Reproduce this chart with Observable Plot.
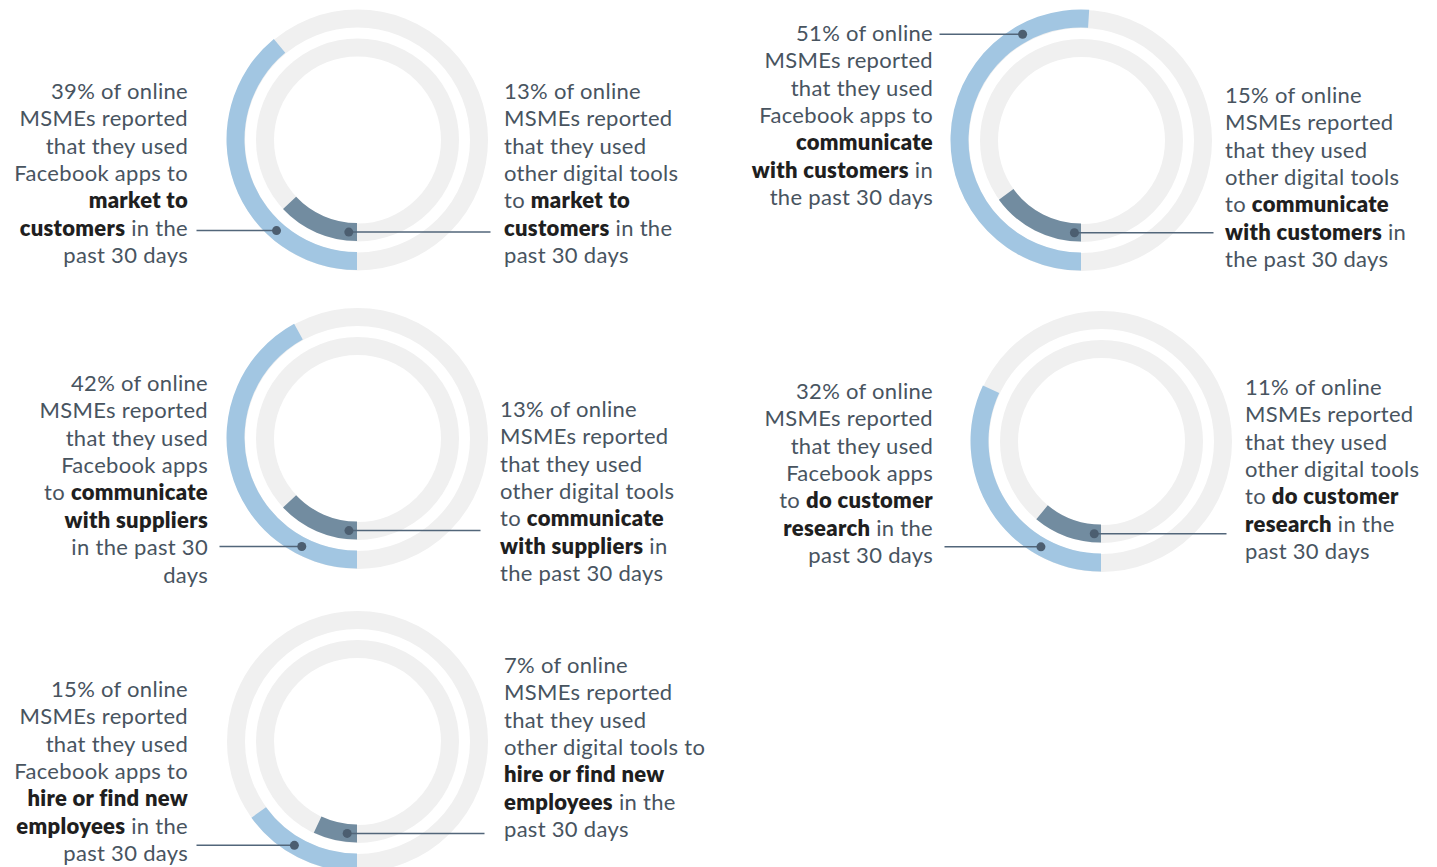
<!DOCTYPE html>
<html><head><meta charset="utf-8">
<script src="https://cdn.jsdelivr.net/npm/d3@7"></script>
<script src="https://cdn.jsdelivr.net/npm/@observablehq/plot@0.6"></script>
<style>
html,body{margin:0;padding:0;background:#fff;}
#chart{position:relative;width:1437px;height:867px;overflow:hidden}
</style></head><body><div id="chart"></div>
<script>
// ---------------- data ----------------
const activities = ["market to customers", "communicate with customers", "communicate with suppliers", "do customer research", "hire or find new employees"];
const facebookAppsPct = [39, 51, 42, 32, 15];
const otherToolsPct = [13, 15, 13, 11, 7];
// label line breaks as in the original; {v} = the value, *...* = bold
const facebookLabelLines = [
  ["{v}% of online", "MSMEs reported", "that they used", "Facebook apps to", "*market to*", "*customers* in the", "past 30 days"],
  ["{v}% of online", "MSMEs reported", "that they used", "Facebook apps to", "*communicate*", "*with customers* in", "the past 30 days"],
  ["{v}% of online", "MSMEs reported", "that they used", "Facebook apps", "to *communicate*", "*with suppliers*", "in the past 30", "days"],
  ["{v}% of online", "MSMEs reported", "that they used", "Facebook apps", "to *do customer*", "*research* in the", "past 30 days"],
  ["{v}% of online", "MSMEs reported", "that they used", "Facebook apps to", "*hire or find new*", "*employees* in the", "past 30 days"]
];
const otherLabelLines = [
  ["{v}% of online", "MSMEs reported", "that they used", "other digital tools", "to *market to*", "*customers* in the", "past 30 days"],
  ["{v}% of online", "MSMEs reported", "that they used", "other digital tools", "to *communicate*", "*with customers* in", "the past 30 days"],
  ["{v}% of online", "MSMEs reported", "that they used", "other digital tools", "to *communicate*", "*with suppliers* in", "the past 30 days"],
  ["{v}% of online", "MSMEs reported", "that they used", "other digital tools", "to *do customer*", "*research* in the", "past 30 days"],
  ["{v}% of online", "MSMEs reported", "that they used", "other digital tools to", "*hire or find new*", "*employees* in the", "past 30 days"]
];

// ---------------- layout (positions / styles) ----------------
const centers = [[357, 139.5], [1081, 140], [357, 438], [1101, 441], [357, 741]];
const outerBand = [112.5, 130.5];
const innerBand = [83.5, 101.5];
const outerLeaderDeg = [41.8, 151, 27.3, 29.9, 31.3];   // clockwise from 6 o'clock
const innerLeaderDeg = [5.4, 4.4, 5.3, 4.5, 6.4];
const leftLabelPos = [[188, 91], [933, 33], [208, 383], [933, 391], [188, 689]];
const rightLabelPos = [[504, 91], [1225, 95], [500, 409], [1245, 387], [504, 665]];
const leftLeaderEnd = [196, 939, 219, 944, 196];
const rightLeaderEnd = [490, 1213, 480, 1226, 484];
const lineHeight = 27.4;
const FONT = "Lato, 'Open Sans', sans-serif";
const FONT_SIZE = 22;
const colors = {ring: "#f0f0f0", facebook: "#a2c6e2", other: "#728ca0", leader: "#52667a", dot: "#4c5e70", text: "#48545f", bold: "#1f1f1f"};

// angle scale: percentage -> radians, starting at 6 o'clock, clockwise
let angleOf;
try {
  const s = Plot.scale({x: {type: "linear", domain: [0, 100], range: [Math.PI, 3 * Math.PI]}});
  angleOf = (v) => s.apply(v);
} catch (e) {
  angleOf = d3.scaleLinear([0, 100], [Math.PI, 3 * Math.PI]);
}

const panels = activities.map((activity, i) => ({
  activity, facebook: facebookAppsPct[i], other: otherToolsPct[i],
  cx: centers[i][0], cy: centers[i][1]
}));

const mid = (b) => (b[0] + b[1]) / 2;
const leaders = [];
panels.forEach((p, i) => {
  const ao = outerLeaderDeg[i] * Math.PI / 180, ai = innerLeaderDeg[i] * Math.PI / 180;
  const ro = mid(outerBand), ri = mid(innerBand);
  leaders.push({series: "facebook", xDot: p.cx - ro * Math.sin(ao), y: p.cy + ro * Math.cos(ao), xEnd: leftLeaderEnd[i]});
  leaders.push({series: "other", xDot: p.cx - ri * Math.sin(ai), y: p.cy + ri * Math.cos(ai), xEnd: rightLeaderEnd[i]});
});

const labels = [];
panels.forEach((p, i) => {
  labels.push({lines: facebookLabelLines[i].map(l => l.replace("{v}", p.facebook)), x: leftLabelPos[i][0], y: leftLabelPos[i][1], anchor: "end"});
  labels.push({lines: otherLabelLines[i].map(l => l.replace("{v}", p.other)), x: rightLabelPos[i][0], y: rightLabelPos[i][1], anchor: "start"});
});

function arcsMark(index, scales, values, dimensions) {
  const sx = scales && scales.x ? scales.x : (v) => v;
  const sy = scales && scales.y ? scales.y : (v) => v;
  const g = d3.create("svg:g");
  const arc = d3.arc();
  panels.forEach((p) => {
    const t = `translate(${sx(p.cx)},${sy(p.cy)})`;
    g.append("path").attr("transform", t).attr("fill", colors.facebook)
      .attr("d", arc({innerRadius: outerBand[0], outerRadius: outerBand[1], startAngle: angleOf(0), endAngle: angleOf(p.facebook)}));
    g.append("path").attr("transform", t).attr("fill", colors.other)
      .attr("d", arc({innerRadius: innerBand[0], outerRadius: innerBand[1], startAngle: angleOf(0), endAngle: angleOf(p.other)}));
  });
  return g.node();
}

function labelsMark(index, scales) {
  const sx = scales && scales.x ? scales.x : (v) => v;
  const sy = scales && scales.y ? scales.y : (v) => v;
  const g = d3.create("svg:g").attr("font-family", FONT).attr("font-size", FONT_SIZE)
    .attr("letter-spacing", "0.3px").attr("fill", colors.text);
  labels.forEach((lab) => {
    lab.lines.forEach((line, k) => {
      const t = g.append("text").attr("x", sx(lab.x)).attr("y", sy(lab.y + k * lineHeight)).attr("dy", "0.35em").attr("text-anchor", lab.anchor);
      line.split(/(\*[^*]+\*)/).filter(s => s.length).forEach((seg) => {
        if (seg.startsWith("*")) t.append("tspan").attr("font-weight", 800).attr("fill", colors.bold).text(seg.slice(1, -1));
        else t.append("tspan").text(seg);
      });
    });
  });
  return g.node();
}

const chart = Plot.plot({
  width: 1437, height: 867, margin: 0,
  x: {domain: [0, 1437], range: [0, 1437], axis: null},
  y: {domain: [0, 867], range: [0, 867], axis: null},
  style: {background: "#fff"},
  marks: [
    Plot.dot(panels, {x: "cx", y: "cy", r: mid(outerBand), stroke: colors.ring, strokeWidth: outerBand[1] - outerBand[0], fill: "none"}),
    Plot.dot(panels, {x: "cx", y: "cy", r: mid(innerBand), stroke: colors.ring, strokeWidth: innerBand[1] - innerBand[0], fill: "none"}),
    arcsMark,
    Plot.link(leaders, {x1: "xEnd", y1: "y", x2: "xDot", y2: "y", stroke: colors.leader, strokeWidth: 1.5}),
    Plot.dot(leaders, {x: "xDot", y: "y", r: 4.5, fill: colors.dot}),
    labelsMark
  ]
});
document.getElementById("chart").appendChild(chart);
</script>
</body></html>
